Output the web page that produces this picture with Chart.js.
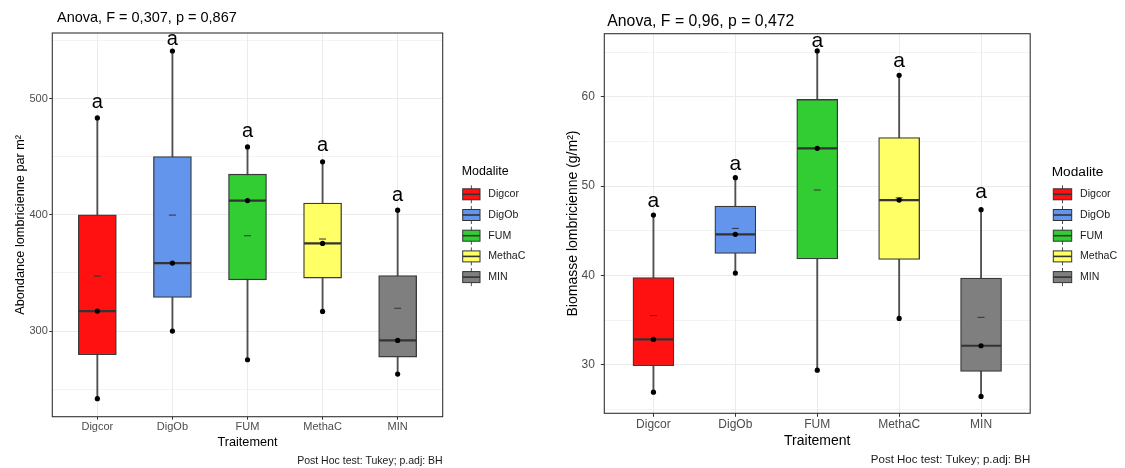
<!DOCTYPE html>
<html><head><meta charset="utf-8">
<script src="https://cdn.jsdelivr.net/npm/chart.js@4.4.1/dist/chart.umd.min.js"></script>
<style>
html,body{margin:0;padding:0;background:#fff;width:1125px;height:468px;overflow:hidden}
canvas{position:absolute;top:0}
#c1{left:0}
#c2{left:560px}
</style></head><body>
<canvas id="c1" width="560" height="468"></canvas>
<canvas id="c2" width="565" height="468"></canvas>
<script>
const CATEGORIES = ['Digcor', 'DigOb', 'FUM', 'MethaC', 'MIN'];
const COLORS = ['#FF1111', '#6495ED', '#32CD32', '#FFFF66', '#7F7F7F'];
const LETTERS = ['a', 'a', 'a', 'a', 'a'];
const LEGEND_TITLE = 'Modalite';
const X_TITLE = 'Traitement';
const CAPTION = 'Post Hoc test: Tukey; p.adj: BH';

// Abondance lombricienne par m²
const AB_TITLE = 'Anova, F = 0,307, p = 0,867';
const AB_YTITLE = 'Abondance lombricienne par m²';
const AB_MIN = [241.8, 300.0, 275.3, 316.9, 263.0];
const AB_Q1 = [279.6, 328.9, 344.1, 345.6, 277.6];
const AB_MED = [317.2, 358.5, 412.3, 375.4, 291.9];
const AB_Q3 = [400.0, 450.1, 435.0, 410.1, 347.8];
const AB_MAX = [483.4, 541.0, 458.5, 445.6, 404.0];
const AB_MEAN = [347.3, 399.8, 382.0, 379.2, 319.6];
const AB_LETTER_Y = [492, 546, 467, 455, 412];
const AB_TICKS = [300, 400, 500];
const AB_MINOR = [250, 350, 450, 550];

// Biomasse lombricienne (g/m²)
const BM_TITLE = 'Anova, F = 0,96, p = 0,472';
const BM_YTITLE = 'Biomasse lombricienne (g/m²)';
const BM_MIN = [26.93, 40.26, 29.39, 35.18, 26.45];
const BM_Q1 = [29.88, 42.46, 41.83, 41.78, 29.25];
const BM_MED = [32.83, 44.59, 54.22, 48.43, 32.12];
const BM_Q3 = [39.76, 47.75, 59.69, 55.43, 39.70];
const BM_MAX = [46.75, 50.93, 65.12, 62.39, 47.35];
const BM_MEAN = [35.50, 45.26, 49.55, 48.67, 35.30];
const BM_LETTER_Y = [47.6, 51.8, 65.6, 63.3, 48.7];
const BM_TICKS = [30, 40, 50, 60];
const BM_MINOR = [25, 35, 45, 55, 65];

const FONT = '"Liberation Sans", Arial, sans-serif';

function buildChart(id, d, L) {
  const idx = CATEGORIES.map((_, i) => i);
  const pts = [];
  idx.forEach(i => { pts.push({x: i, y: d.min[i]}, {x: i, y: d.med[i]}, {x: i, y: d.max[i]}); });
  const grid = d.ticks.concat(d.minor).sort((a, b) => a - b);

  const decor = {
    id: 'decor',
    afterDatasetsDraw(chart) {
      const a = chart.chartArea, ctx = chart.ctx;
      ctx.save();
      ctx.strokeStyle = '#333333';
      ctx.lineWidth = 1.1;
      ctx.strokeRect(a.left, a.top, a.right - a.left, a.bottom - a.top);
      ctx.restore();
    },
    afterDraw(chart) {
      const ctx = chart.ctx, xs = chart.scales.x, ys = chart.scales.y, a = chart.chartArea;
      ctx.save();
      // title
      ctx.fillStyle = '#000';
      ctx.textBaseline = 'alphabetic';
      ctx.textAlign = 'left';
      ctx.font = L.titleSize + 'px ' + FONT;
      ctx.fillText(d.title, L.titleX, L.titleY);
      // caption
      ctx.textAlign = 'right';
      ctx.font = L.capSize + 'px ' + FONT;
      ctx.fillStyle = '#1a1a1a';
      ctx.fillText(CAPTION, a.right, L.capY);
      // letters
      ctx.textAlign = 'center';
      ctx.fillStyle = '#000';
      ctx.font = L.letterSize + 'px ' + FONT;
      idx.forEach(i => {
        ctx.fillText(LETTERS[i], xs.getPixelForValue(i), ys.getPixelForValue(d.letterY[i]));
      });
      // legend
      const g = L.leg;
      ctx.textAlign = 'left';
      ctx.textBaseline = 'middle';
      ctx.font = g.titleSize + 'px ' + FONT;
      ctx.fillStyle = '#000';
      ctx.fillText(LEGEND_TITLE, g.titleX, g.titleY);
      ctx.font = g.labelSize + 'px ' + FONT;
      idx.forEach(i => {
        const yc = g.y0 + i * g.dy;
        const xc = g.keyX + g.keyW / 2;
        ctx.strokeStyle = '#4d4d4d';
        ctx.lineWidth = 1;
        ctx.beginPath();
        ctx.moveTo(xc, yc - g.keyH / 2 - 3.5);
        ctx.lineTo(xc, yc + g.keyH / 2 + 3.5);
        ctx.stroke();
        ctx.fillStyle = COLORS[i];
        ctx.fillRect(g.keyX, yc - g.keyH / 2, g.keyW, g.keyH);
        ctx.strokeStyle = '#333333';
        ctx.strokeRect(g.keyX, yc - g.keyH / 2, g.keyW, g.keyH);
        ctx.lineWidth = 1.6;
        ctx.beginPath();
        ctx.moveTo(g.keyX, yc);
        ctx.lineTo(g.keyX + g.keyW, yc);
        ctx.stroke();
        ctx.fillStyle = '#1a1a1a';
        ctx.fillText(CATEGORIES[i], g.labelX, yc);
      });
      ctx.restore();
    }
  };

  return new Chart(document.getElementById(id), {
    type: 'bar',
    data: {
      datasets: [
        {type: 'bar', label: 'whisker', data: idx.map(i => ({x: i, y: [d.min[i], d.max[i]]})),
         backgroundColor: '#505050', borderWidth: 0, barThickness: 1.2, grouped: false, order: 5},
        {type: 'bar', label: 'box', data: idx.map(i => ({x: i, y: [d.q1[i], d.q3[i]]})),
         backgroundColor: COLORS, borderColor: '#3a3a3a', borderWidth: 1.3, borderSkipped: false,
         barThickness: L.boxW, grouped: false, order: 4},
        {type: 'line', label: 'median', data: idx.map(i => ({x: i, y: d.med[i]})), showLine: false,
         pointStyle: 'line', pointRadius: L.boxW / 2 - 0.5, pointBorderWidth: 2.2, pointBorderColor: '#333333', order: 3},
        {type: 'line', label: 'mean', data: idx.map(i => ({x: i, y: d.mean[i]})), showLine: false,
         pointStyle: 'line', pointRadius: 3.5, pointBorderWidth: 1, pointBorderColor: '#333333', order: 2},
        {type: 'line', label: 'obs', data: pts, showLine: false, pointStyle: 'circle',
         pointRadius: 2.6, pointBackgroundColor: '#000', pointBorderWidth: 0, order: 1}
      ]
    },
    options: {
      responsive: false,
      animation: false,
      events: [],
      layout: {padding: {left: 0, top: L.top, right: L.padR, bottom: 0}},
      plugins: {legend: {display: false}, tooltip: {enabled: false}, title: {display: false}},
      scales: {
        x: {
          type: 'linear', min: -0.6, max: 4.6, offset: false,
          afterBuildTicks: s => { s.ticks = idx.map(i => ({value: i})); },
          afterFit: s => { s.height = L.xH; },
          ticks: {callback: v => (CATEGORIES[v] !== undefined ? CATEGORIES[v] : ''), color: '#4d4d4d',
                  font: {family: FONT, size: L.tick}, padding: L.xPad, autoSkip: false, maxRotation: 0},
          grid: {offset: false, color: '#ebebeb', lineWidth: 1, tickLength: L.tickLen, tickColor: '#333333', drawTicks: true},
          border: {display: false},
          title: {display: true, text: X_TITLE, color: '#000', font: {family: FONT, size: L.axTitle},
                  padding: {top: 0, bottom: L.xTitlePad}}
        },
        y: {
          type: 'linear', min: L.ymin, max: L.ymax,
          afterBuildTicks: s => { s.ticks = grid.map(v => ({value: v})); },
          afterFit: s => { s.width = L.yW; },
          ticks: {callback: v => (d.ticks.includes(v) ? String(v) : ''), color: '#4d4d4d',
                  font: {family: FONT, size: L.tick}, padding: L.yPad, autoSkip: false},
          grid: {color: '#ebebeb',
                 lineWidth: c => (c.tick && d.ticks.includes(c.tick.value) ? 1 : 0.6),
                 tickColor: c => (c.tick && d.ticks.includes(c.tick.value) ? '#333333' : 'rgba(0,0,0,0)'),
                 tickLength: L.tickLen, drawTicks: true},
          border: {display: false},
          title: {display: true, text: d.ytitle, color: '#000', font: {family: FONT, size: L.axTitle},
                  padding: {top: L.yTitlePad, bottom: 0}}
        }
      }
    },
    plugins: [decor]
  });
}

buildChart('c1', {
  title: AB_TITLE, ytitle: AB_YTITLE, min: AB_MIN, q1: AB_Q1, med: AB_MED, q3: AB_Q3, max: AB_MAX,
  mean: AB_MEAN, letterY: AB_LETTER_Y, ticks: AB_TICKS, minor: AB_MINOR
}, {
  top: 33, padR: 117.3, yW: 52.3, xH: 51.3, ymin: 226.3, ymax: 556.5, boxW: 38,
  tick: 11, tickLen: 3, xPad: 1, yPad: 1.5, axTitle: 12.7, xTitlePad: 18, yTitlePad: 12.4,
  titleSize: 14.5, titleX: 57, titleY: 22, capSize: 10.5, capY: 464, letterSize: 20,
  leg: {titleX: 461.7, titleY: 172, titleSize: 12.4, labelSize: 10.6, keyX: 462.7, keyW: 17.3, keyH: 11,
        y0: 194.3, dy: 20.7, labelX: 488.3}
});

buildChart('c2', {
  title: BM_TITLE, ytitle: BM_YTITLE, min: BM_MIN, q1: BM_Q1, med: BM_MED, q3: BM_Q3, max: BM_MAX,
  mean: BM_MEAN, letterY: BM_LETTER_Y, ticks: BM_TICKS, minor: BM_MINOR
}, {
  top: 33.7, padR: 94.8, yW: 44.3, xH: 54.7, ymin: 24.56, ymax: 67.05, boxW: 41,
  tick: 12, tickLen: 3.5, xPad: 0.5, yPad: 6, axTitle: 14, xTitlePad: 18.9, yTitlePad: 5,
  titleSize: 15.8, titleX: 47.3, titleY: 26, capSize: 11.5, capY: 463, letterSize: 21,
  leg: {titleX: 491.7, titleY: 172, titleSize: 13.7, labelSize: 10.6, keyX: 493.3, keyW: 18.4, keyH: 11,
        y0: 194.3, dy: 20.7, labelX: 520}
});
</script>
</body></html>
